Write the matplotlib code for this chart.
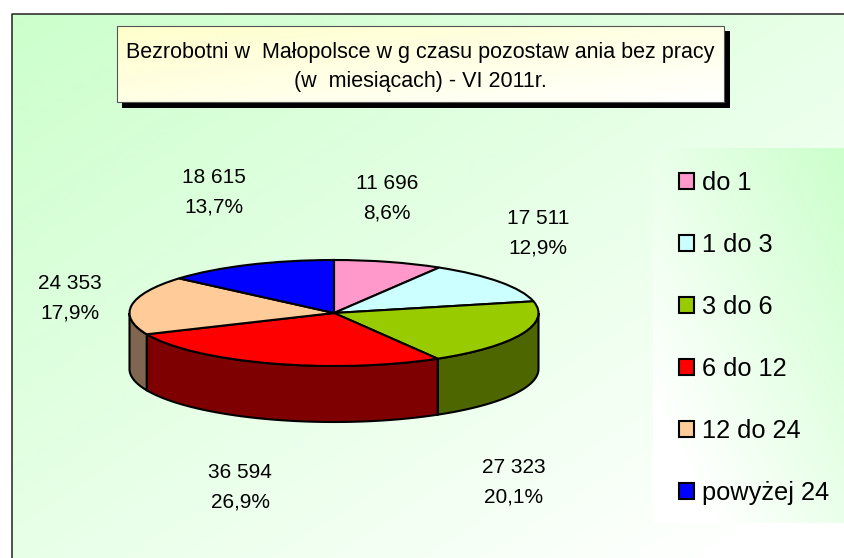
import numpy as np
import matplotlib
matplotlib.use("Agg")
import matplotlib.pyplot as plt
from matplotlib.patches import Rectangle

plt.rcParams['font.family'] = ['Liberation Sans', 'DejaVu Sans']

categories = ["do 1", "1 do 3", "3 do 6", "6 do 12", "12 do 24", "powyżej 24"]
values = [11696, 17511, 27323, 36594, 24353, 18615]
top_colors = ["#ff99cc", "#ccffff", "#99cc00", "#ff0000", "#ffcc99", "#0000ff"]
side_colors = ["#804d66", "#668080", "#4d6600", "#7f0000", "#806650", "#000080"]
title_lines = "Bezrobotni w  Małopolsce w g czasu pozostaw ania bez pracy\n(w  miesiącach) - VI 2011r."
label_pos = [(387, 198), (538, 233), (514, 482), (240, 487), (70, 298), (214, 192)]

W, H = 844, 558
fig = plt.figure(figsize=(W / 100, H / 100), dpi=100, facecolor="white")
bg = fig.add_axes([0, 0, 1, 1])
bg.set_xlim(0, W)
bg.set_ylim(H, 0)
bg.axis("off")


def grad(t, c0, c1=(255, 255, 255)):
    t = np.clip(t, 0, 1)[..., None]
    return (np.array(c0) * (1 - t) + np.array(c1) * t).astype(np.uint8)


GREEN = (204, 255, 204)
# chart area background
x, y = np.meshgrid(np.linspace(0, 1, 200), np.linspace(0, 1, 200))
bg.imshow(grad((x + y) / 2 * 1.08, GREEN), extent=(12, W, H, 14), aspect="auto", zorder=0)
bg.plot([12, 12, W], [H, 14, 14], color="#222222", lw=1.1, zorder=1)
# legend background
bg.imshow(grad(((1 - x) + y) / 2 * 1.2, GREEN), extent=(653, W, 523, 148), aspect="auto", zorder=1)
# title box with shadow
bg.add_patch(Rectangle((122, 31), 608, 77, fc="black", ec="none", zorder=2))
bg.imshow(grad((x + y) / 2, (255, 255, 204)), extent=(117, 724, 102, 26), aspect="auto", zorder=3)
bg.add_patch(Rectangle((117, 26), 607, 76, fc="none", ec="#555555", lw=0.8, zorder=4))
bg.text(420.5, 67, title_lines, ha="center", va="center", fontsize=15.5, color="black",
        linespacing=1.44, zorder=5)
bg.set_xlim(0, W)
bg.set_ylim(H, 0)

# pie: radius 1 in data units = (204.5 px, 53 px)
CX, CY, RX, RY, DEPTH = 334, 313, 204.5, 53, 56
pw, ph = 2.5 * RX, 2.5 * RY
pie_ax = fig.add_axes([(CX - pw / 2) / W, 1 - (CY + ph / 2) / H, pw / W, ph / H])
pie_ax.patch.set_alpha(0)
wedges, _ = pie_ax.pie(values, colors=top_colors, startangle=90, counterclock=False,
                       radius=1, wedgeprops=dict(edgecolor="black", linewidth=1.5, zorder=5))
pie_ax.set_aspect("auto")

# the wall of the cylinder, only on the near half
fractions = np.cumsum([0] + values) / sum(values) * 360
d = DEPTH / RY
for a, b, col in zip(fractions[:-1], fractions[1:], side_colors):
    lo, hi = max(a, 90), min(b, 270)
    if lo >= hi:
        continue
    t = np.radians(np.linspace(lo, hi, 60))
    xs, ys = np.sin(t), np.cos(t)
    poly_x = np.r_[xs, xs[::-1]]
    poly_y = np.r_[ys, ys[::-1] - d]
    pie_ax.fill(poly_x, poly_y, facecolor=col, edgecolor="black", linewidth=1.5,
                zorder=3, clip_on=False)
pie_ax.set_xlim(-1.25, 1.25)
pie_ax.set_ylim(-1.25, 1.25)
for w in wedges:
    w.set_clip_on(False)

# data labels
total = sum(values)
text_ax = fig.add_axes([0, 0, 1, 1])
text_ax.set_xlim(0, W)
text_ax.set_ylim(H, 0)
text_ax.axis("off")
for v, (px, py) in zip(values, label_pos):
    s = f"{v:,}".replace(",", " ") + "\n" + f"{v / total * 100:.1f}%".replace(".", ",")
    text_ax.text(px, py, s, ha="center", va="center", fontsize=15, linespacing=1.68, color="black")

# legend
text_ax.legend(wedges, categories, loc="upper left", bbox_to_anchor=(679 / W, 1 - 170.5 / H),
               frameon=False, fontsize=18.3, handlelength=0.59, handleheight=0.59,
               handletextpad=0.32, labelspacing=1.5, borderpad=0, borderaxespad=0,
               labelcolor="black")

fig.savefig("out.png", dpi=100)
